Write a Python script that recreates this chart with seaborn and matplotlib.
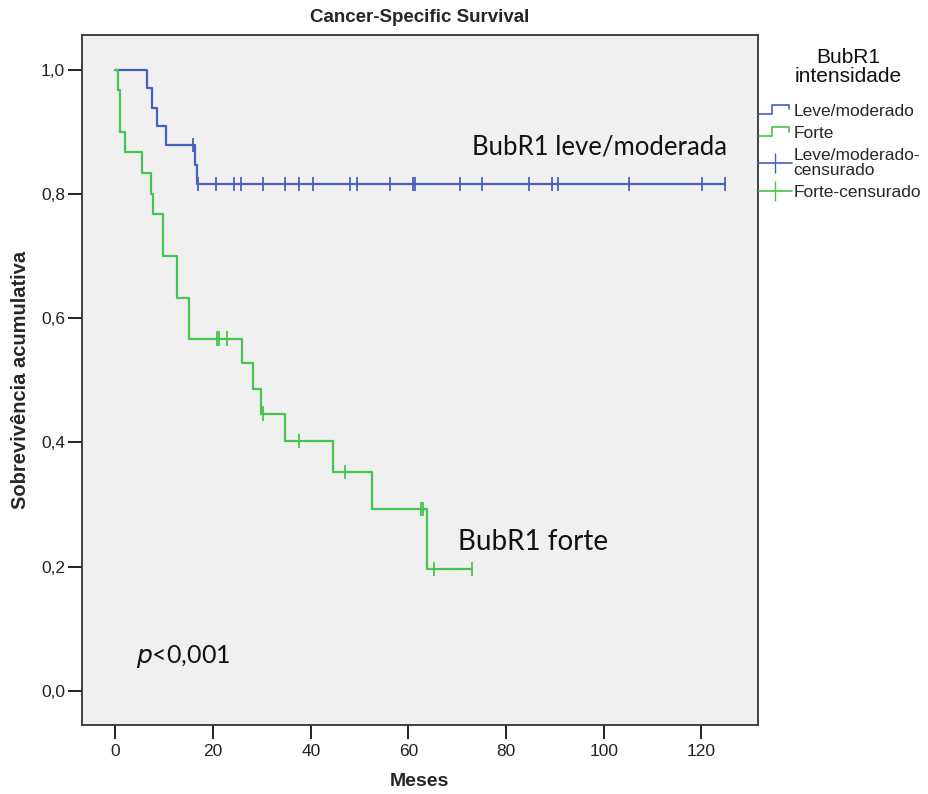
import numpy as np
import pandas as pd
import seaborn as sns
import matplotlib.pyplot as plt
from matplotlib.lines import Line2D
from matplotlib.legend_handler import HandlerBase
from matplotlib.ticker import FuncFormatter

# curvas de Kaplan-Meier (tempo em meses, sobrevivencia)
leve_tempo = [0, 6.4, 7.5, 8.5, 10.3, 16.2, 16.8, 124.9]
leve_sobrev = [1.0, 0.970, 0.939, 0.909, 0.879, 0.847, 0.816, 0.816]
leve_censura = [15.9, 17.0, 20.5, 24.3, 25.8, 30.3, 34.8, 37.5, 40.4, 48.0, 49.5,
                56.2, 61.0, 61.3, 70.5, 75.1, 84.6, 89.4, 90.7, 105.2, 120.1, 124.9]

forte_tempo = [0, 0.5, 0.9, 2.0, 5.4, 7.3, 7.7, 9.7, 12.6, 15.1, 25.9, 28.2, 29.9,
               34.8, 44.6, 52.5, 63.9, 73.0]
forte_sobrev = [1.0, 0.967, 0.900, 0.867, 0.833, 0.800, 0.767, 0.700, 0.633, 0.567,
                0.528, 0.486, 0.446, 0.402, 0.352, 0.293, 0.196, 0.196]
forte_censura = [20.8, 21.3, 22.9, 30.2, 37.6, 47.0, 62.6, 62.9, 65.3, 73.0]

grupos = ['Leve/moderado', 'Forte']
x_ticks = [0, 20, 40, 60, 80, 100, 120]
y_ticks = [0.0, 0.2, 0.4, 0.6, 0.8, 1.0]

AZUL = '#4560bd'
VERDE = '#45c44f'
pal = {'Leve/moderado': AZUL, 'Forte': VERDE}


def nivel(tempos, sobrev, t):
    idx = np.searchsorted(tempos, t, side='right') - 1
    return np.asarray(sobrev)[idx]


curvas = pd.concat([
    pd.DataFrame({'tempo': leve_tempo, 'sobrev': leve_sobrev, 'grupo': grupos[0]}),
    pd.DataFrame({'tempo': forte_tempo, 'sobrev': forte_sobrev, 'grupo': grupos[1]}),
], ignore_index=True)

censuras = pd.concat([
    pd.DataFrame({'tempo': leve_censura,
                  'sobrev': nivel(leve_tempo, leve_sobrev, leve_censura),
                  'grupo': grupos[0]}),
    pd.DataFrame({'tempo': forte_censura,
                  'sobrev': nivel(forte_tempo, forte_sobrev, forte_censura),
                  'grupo': grupos[1]}),
], ignore_index=True)


class StepHandler(HandlerBase):
    def create_artists(self, legend, orig_handle, xdescent, ydescent,
                       width, height, fontsize, trans):
        x0, y0 = -xdescent, -ydescent
        xs = [x0, x0 + width * 0.4, x0 + width * 0.4, x0 + width * 0.92, x0 + width * 0.92]
        ys = [y0 + 0.15 * height, y0 + 0.15 * height, y0 + 0.9 * height,
              y0 + 0.9 * height, y0 + 0.55 * height]
        return [Line2D(xs, ys, color=orig_handle.get_color(), lw=1.2, transform=trans)]


sns.set_style('white')
plt.rcParams['font.family'] = ['Liberation Sans', 'DejaVu Sans']

fig = plt.figure(figsize=(9.29, 7.94), dpi=100)
ax = fig.add_axes([0.088, 0.087, 0.728, 0.869])
ax.set_facecolor('#f0f0f0')

sns.lineplot(data=curvas, x='tempo', y='sobrev', hue='grupo', palette=pal,
             drawstyle='steps-post', estimator=None, sort=False, legend=False,
             lw=1.6, ax=ax)
sns.scatterplot(data=censuras, x='tempo', y='sobrev', hue='grupo', palette=pal,
                marker='|', s=110, linewidth=1.3, legend=False, ax=ax)

ax.set_xlim(-6.9, 131.6)
ax.set_ylim(-0.055, 1.056)
ax.set_xticks(x_ticks)
ax.set_yticks(y_ticks)
ax.yaxis.set_major_formatter(FuncFormatter(lambda v, p: f'{v:.1f}'.replace('.', ',')))
ax.tick_params(axis='both', direction='out', length=10, width=1.4, labelsize=12.5,
               colors='#222222', left=True, bottom=True, pad=2)
ax.tick_params(axis='x', pad=4)
for s in ax.spines.values():
    s.set_color('#333333')
    s.set_linewidth(1.3)

ax.set_xlabel('Meses', fontsize=14, fontweight='bold', labelpad=10)
ax.set_ylabel('Sobrevivência acumulativa', fontsize=14.5, fontweight='bold', labelpad=8)
ax.set_title('Cancer-Specific Survival', fontsize=13.5, fontweight='bold', pad=9)

ax.text(73.0, 0.876, 'BubR1 leve/moderada', fontsize=18.5, family=['Lato', 'DejaVu Sans'],
        va='center', color='#111111')
ax.text(70.2, 0.240, 'BubR1 forte', fontsize=20, family=['Lato', 'DejaVu Sans'],
        va='center', color='#111111')
ax.text(4.3, 0.055, r'$\it{p}$<0,001', fontsize=18, family=['Lato', 'DejaVu Sans'],
        va='center', color='#111111')

fig.text(848 / 929, 1 - 67 / 794, 'BubR1\nintensidade', fontsize=15, ha='center',
         va='center', multialignment='center', linespacing=1.05, color='#111111')

handles = [
    Line2D([], [], color=AZUL),
    Line2D([], [], color=VERDE),
    Line2D([], [], color=AZUL, marker='|', markersize=15, lw=1.2),
    Line2D([], [], color=VERDE, marker='|', markersize=15, lw=1.2),
]
labels = ['Leve/moderado', 'Forte', 'Leve/moderado-\ncensurado', 'Forte-censurado']
leg = fig.legend(handles, labels, loc='upper left', bbox_to_anchor=(759 / 929, 1 - 104 / 794),
                 frameon=False, fontsize=12.5, handlelength=1.9, handletextpad=0.1,
                 labelspacing=0.4, borderpad=0, borderaxespad=0,
                 handler_map={handles[0]: StepHandler(), handles[1]: StepHandler()})
for t in leg.get_texts():
    t.set_linespacing(0.95)

fig.savefig('out.png', dpi=100)
